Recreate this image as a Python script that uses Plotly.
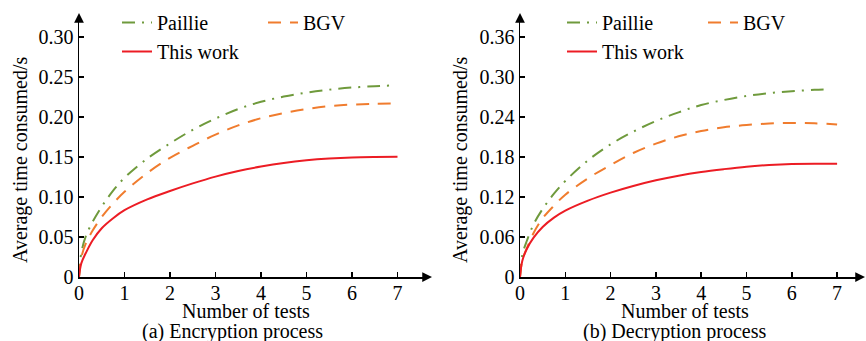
import plotly.graph_objects as go

# ---------------- data ----------------
x_vals = [0, 0.05, 0.15, 0.3, 0.5, 0.75, 1, 1.5, 2, 2.5, 3, 3.5, 4, 4.5, 5, 5.5, 6, 6.5, 7]
x_paillie = [0, 0.05, 0.15, 0.3, 0.5, 0.75, 1, 1.5, 2, 2.5, 3, 3.5, 4, 4.5, 5, 5.5, 6, 6.5, 6.85]

enc_paillie = [0, 0.030, 0.051, 0.069, 0.088, 0.108, 0.124, 0.148, 0.167, 0.184, 0.198, 0.210, 0.219, 0.2255, 0.2305, 0.2342, 0.2368, 0.2385, 0.2393]
enc_bgv = [0, 0.024, 0.042, 0.058, 0.075, 0.092, 0.1065, 0.130, 0.149, 0.164, 0.178, 0.1895, 0.1985, 0.205, 0.210, 0.2135, 0.2155, 0.2165, 0.2170]
enc_this = [0, 0.017, 0.030, 0.046, 0.061, 0.0735, 0.0835, 0.097, 0.1075, 0.117, 0.1255, 0.1325, 0.138, 0.1425, 0.1458, 0.148, 0.1494, 0.150, 0.1502]

dec_paillie = [0, 0.033, 0.054, 0.079, 0.102, 0.125, 0.144, 0.175, 0.199, 0.218, 0.234, 0.247, 0.258, 0.2655, 0.2715, 0.2758, 0.2788, 0.2807, 0.2815]
dec_bgv = [0, 0.025, 0.043, 0.066, 0.088, 0.107, 0.1235, 0.148, 0.168, 0.186, 0.200, 0.211, 0.219, 0.2245, 0.228, 0.2302, 0.231, 0.2305, 0.2288]
dec_this = [0, 0.024, 0.042, 0.059, 0.075, 0.089, 0.0995, 0.1145, 0.1265, 0.1365, 0.145, 0.152, 0.1575, 0.1618, 0.1655, 0.168, 0.1695, 0.170, 0.1698]

x_ticks = [0, 1, 2, 3, 4, 5, 6, 7]
enc_yticks = [0, 0.05, 0.10, 0.15, 0.20, 0.25, 0.30]
enc_yticktext = ["0", "0.05", "0.10", "0.15", "0.20", "0.25", "0.30"]
dec_yticks = [0, 0.06, 0.12, 0.18, 0.24, 0.30, 0.36]
dec_yticktext = ["0", "0.06", "0.12", "0.18", "0.24", "0.30", "0.36"]

series_names = ["Paillie", "BGV", "This work"]
panel_titles = ["(a) Encryption process", "(b) Decryption process"]
x_title = "Number of tests"
y_title = "Average time consumed/s"

# ---------------- style ----------------
W, H = 866, 341
FONT = "Liberation Serif, Times New Roman, serif"
FS = 20
GREEN = "#6F9A3C"
ORANGE = "#F07C2E"
RED = "#EC1C24"
DASHDOT = "13px,7px,2px,7px"
DASH = "13px,9px"

def px_x(p):
    return p / W

def px_y(p):
    return 1 - p / H

fig = go.Figure()

panels = [
    dict(xa="x", ya="y", data=(enc_paillie, enc_bgv, enc_this), legs=("legend", "legend2")),
    dict(xa="x2", ya="y2", data=(dec_paillie, dec_bgv, dec_this), legs=("legend3", "legend4")),
]
for i, p in enumerate(panels):
    pa, bg, th = p["data"]
    fig.add_trace(go.Scatter(x=x_paillie, y=pa, name=series_names[0], mode="lines", line_shape="spline",
                             line=dict(color=GREEN, width=2, dash=DASHDOT),
                             xaxis=p["xa"], yaxis=p["ya"], legend=p["legs"][0]))
    fig.add_trace(go.Scatter(x=x_vals, y=bg, name=series_names[1], mode="lines", line_shape="spline",
                             line=dict(color=ORANGE, width=2, dash=DASH),
                             xaxis=p["xa"], yaxis=p["ya"], legend=p["legs"][1]))
    fig.add_trace(go.Scatter(x=x_vals, y=th, name=series_names[2], mode="lines", line_shape="spline",
                             line=dict(color=RED, width=2),
                             xaxis=p["xa"], yaxis=p["ya"], legend=p["legs"][0]))

ybot, ytop = 277, 20
ydom = [px_y(ybot), px_y(ytop)]

def xaxis(dom_px, spacing):
    rng_max = (dom_px[1] - dom_px[0]) / spacing
    return dict(domain=[px_x(dom_px[0]), px_x(dom_px[1])], range=[0, rng_max],
                tickvals=x_ticks, ticks="inside", ticklen=5, tickwidth=1.5, tickcolor="black",
                ticklabelstandoff=-3,
                showline=True, linecolor="black", linewidth=1.5, showgrid=False, zeroline=False,
                tickfont=dict(family=FONT, size=FS, color="black"))

def yaxis(anchor, vals, text, per_px):
    rng_max = (ybot - ytop) * per_px
    return dict(domain=ydom, range=[0, rng_max], anchor=anchor,
                tickvals=vals, ticktext=text, ticks="inside", ticklen=5, tickwidth=1.5, tickcolor="black",
                showline=True, linecolor="black", linewidth=1.5, showgrid=False, zeroline=False,
                tickfont=dict(family=FONT, size=FS, color="black"))

legend_common = dict(orientation="v", bgcolor="rgba(0,0,0,0)", font=dict(family=FONT, size=FS, color="black"),
                     xanchor="left", yanchor="top", tracegroupgap=0, itemclick=False)

LEG_Y = px_y(3)
fig.update_layout(
    width=W, height=H, margin=dict(l=0, r=0, t=0, b=0, autoexpand=False),
    paper_bgcolor="white", plot_bgcolor="white", hovermode=False,
    xaxis=dict(**xaxis((79, 423), 45.5), anchor="y"),
    yaxis=yaxis("x", enc_yticks, enc_yticktext, 0.05 / 40),
    xaxis2=dict(**xaxis((520, 857), 45.3), anchor="y2"),
    yaxis2=yaxis("x2", dec_yticks, dec_yticktext, 0.06 / 40),
    legend=dict(**legend_common, x=px_x(117), y=LEG_Y),
    legend2=dict(**legend_common, x=px_x(263), y=LEG_Y),
    legend3=dict(**legend_common, x=px_x(562), y=LEG_Y),
    legend4=dict(**legend_common, x=px_x(703), y=LEG_Y),
    showlegend=True,
)

ann = []
def text_ann(txt, cx, cy, angle=0):
    ann.append(dict(text=txt, x=px_x(cx), y=px_y(cy), xref="paper", yref="paper", showarrow=False,
                    xanchor="center", yanchor="middle", textangle=angle,
                    font=dict(family=FONT, size=FS, color="black")))

text_ann(x_title, 246, 311)
text_ann(panel_titles[0], 233, 331)
text_ann(y_title, 20, 160, -90)
text_ann(x_title, 685, 311)
text_ann(panel_titles[1], 674, 331)
text_ann(y_title, 460, 160, -90)

def arrow(hx, hy, dx, dy):
    ann.append(dict(x=px_x(hx), y=px_y(hy), xref="paper", yref="paper", ax=dx, ay=dy, axref="pixel", ayref="pixel",
                    text="", showarrow=True, arrowhead=2, arrowsize=1.3, arrowwidth=1.5, arrowcolor="black",
                    standoff=0, startstandoff=0))

arrow(432, 277, -10, 0)
arrow(79, 13, 0, 10)
arrow(865, 277, -10, 0)
arrow(520, 13, 0, 10)

fig.update_layout(annotations=ann)

fig.write_html("out.html", config={"displayModeBar": False, "staticPlot": True},
               post_script="document.body.style.margin='0';document.body.style.overflow='hidden';")
